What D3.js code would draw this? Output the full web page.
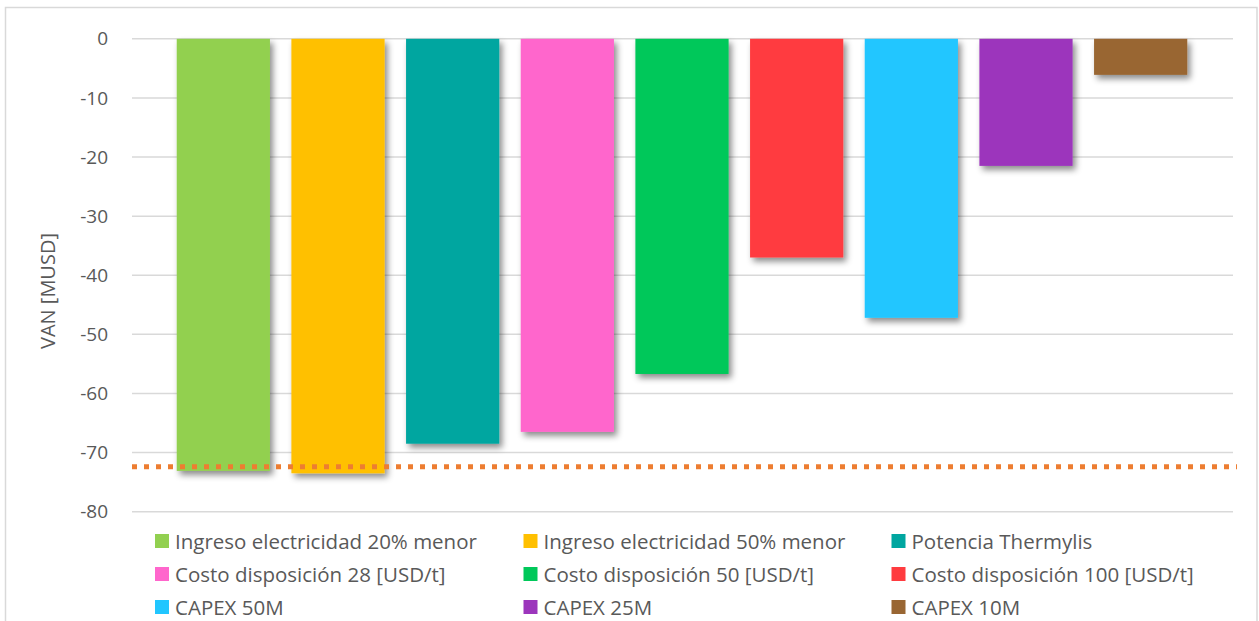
<!DOCTYPE html>
<html>
<head>
<meta charset="utf-8">
<script src="https://cdn.jsdelivr.net/npm/d3@7"></script>
<style>
  html, body { margin: 0; padding: 0; background: #fff; }
  svg { display: block; }
  text { font-family: "Open Sans", Lato, sans-serif; fill: #595959; }
</style>
</head>
<body>
<svg id="chart" width="1259" height="621"></svg>
<script>
// Sensitivity cases and their net present value (MUSD)
const categories = [
  "Ingreso electricidad 20% menor",
  "Ingreso electricidad 50% menor",
  "Potencia Thermylis",
  "Costo disposición 28 [USD/t]",
  "Costo disposición 50 [USD/t]",
  "Costo disposición 100 [USD/t]",
  "CAPEX 50M",
  "CAPEX 25M",
  "CAPEX 10M"
];
const values = [-73.1, -73.5, -68.5, -66.5, -56.7, -37.0, -47.2, -21.5, -6.1];
const colors = ["#92D050", "#FFC000", "#00A6A0", "#FF66CC", "#00C85A",
                "#FF3B3F", "#21C6FF", "#9C36BC", "#996633"];
const baseCase = [-72.4];
const yTicks = [0, -10, -20, -30, -40, -50, -60, -70, -80];

const svg = d3.select("#chart");

// chart frame
svg.append("rect")
  .attr("x", 5.5).attr("y", 7.5)
  .attr("width", 1251.5).attr("height", 640)
  .attr("fill", "#fff").attr("stroke", "#d9d9d9").attr("stroke-width", 1.5);

const defs = svg.append("defs");
const f = defs.append("filter").attr("id", "shadow")
  .attr("x", "-20%").attr("y", "-20%").attr("width", "150%").attr("height", "150%");
f.append("feDropShadow")
  .attr("dx", 3).attr("dy", 4).attr("stdDeviation", 3)
  .attr("flood-color", "#000").attr("flood-opacity", 0.45);

const plotLeft = 132, plotRight = 1233;
const y = d3.scaleLinear().domain([-80, 0]).range([511.7, 38.8]);
const x = d3.scaleBand().domain(categories)
  .range([166, 1198]).paddingInner(0.187).paddingOuter(0.0935);

// gridlines
svg.append("g").selectAll("line").data(yTicks).join("line")
  .attr("x1", plotLeft).attr("x2", plotRight)
  .attr("y1", d => y(d)).attr("y2", d => y(d))
  .attr("stroke", "#d9d9d9").attr("stroke-width", 1.5);

// y axis tick labels (plain hyphen for negatives)
const yAxis = d3.axisLeft(y).tickValues(yTicks).tickSize(0).tickPadding(0)
  .tickFormat(d => String(d));
const ga = svg.append("g").attr("transform", "translate(108,0)").call(yAxis);
ga.select(".domain").remove();
ga.selectAll("text")
  .attr("font-size", 19).attr("fill", "#595959")
  .style("font-family", "'Open Sans', Lato, sans-serif");

// axis title
svg.append("text")
  .attr("transform", "translate(47,291) rotate(-90)")
  .attr("text-anchor", "middle").attr("dominant-baseline", "central")
  .attr("font-size", 20)
  .text("VAN [MUSD]");

// bars
svg.append("g").selectAll("rect").data(categories).join("rect")
  .attr("x", d => x(d))
  .attr("width", x.bandwidth())
  .attr("y", (d, i) => y(Math.max(0, values[i])))
  .attr("height", (d, i) => Math.abs(y(values[i]) - y(0)))
  .attr("fill", (d, i) => colors[i])
  .attr("filter", "url(#shadow)");

// base case reference line
svg.append("g").selectAll("line").data(baseCase).join("line")
  .attr("x1", plotLeft).attr("x2", 1237)
  .attr("y1", d => y(d)).attr("y2", d => y(d))
  .attr("stroke", "#ED7D31").attr("stroke-width", 5)
  .attr("stroke-dasharray", "5,7");

// legend: three columns
const legend = svg.append("g");
const colX = [155, 523.5, 891.5];
const rowY = [541, 574, 607];
const items = legend.selectAll("g").data(categories).join("g")
  .attr("transform", (d, i) => `translate(${colX[i % 3]},${rowY[Math.floor(i / 3)]})`);
items.append("rect")
  .attr("x", 0).attr("y", -7).attr("width", 14).attr("height", 14)
  .attr("fill", (d, i) => colors[i]);
items.append("text")
  .attr("x", 20).attr("dominant-baseline", "central")
  .attr("font-size", 20.5)
  .text(d => d);
</script>
</body>
</html>
